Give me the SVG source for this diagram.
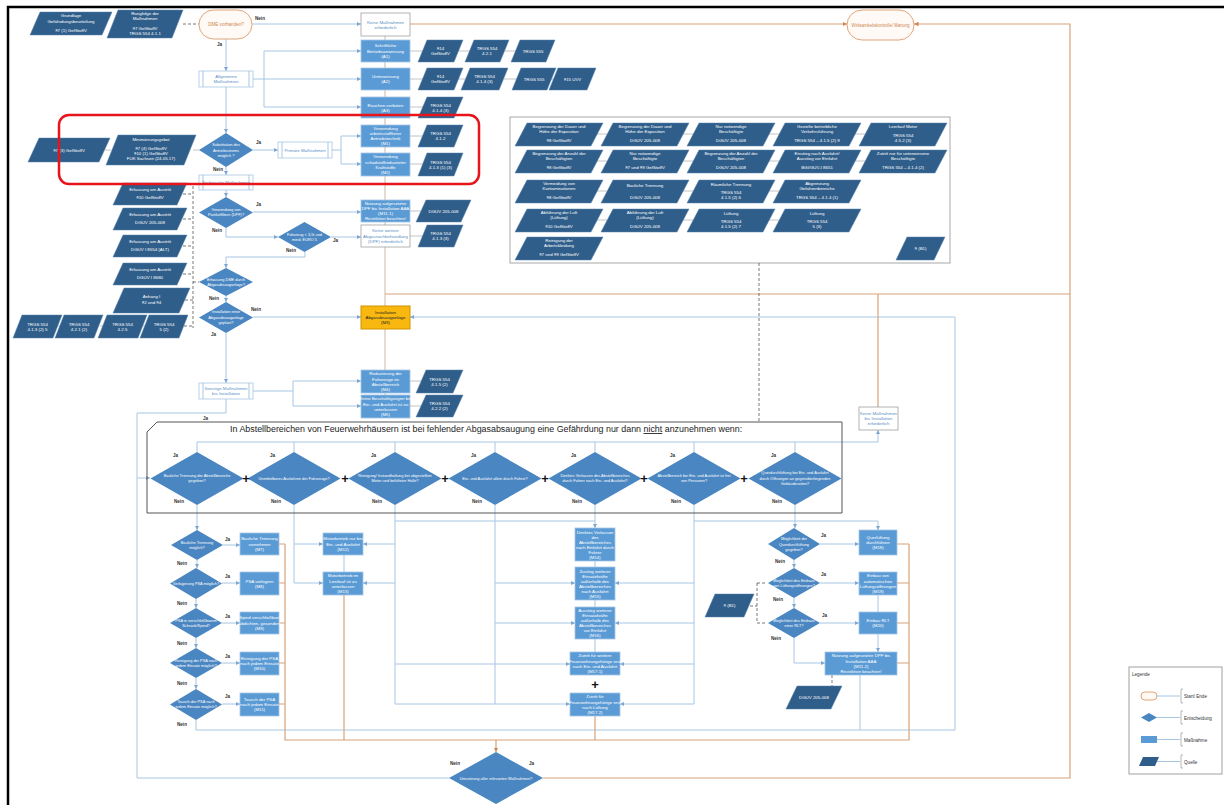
<svg xmlns="http://www.w3.org/2000/svg" width="1224" height="805" viewBox="0 0 1224 805">
<style>
.q{fill:#2f5e8b;stroke:#5a84ad;stroke-width:.5}
.m{fill:#5b9bd5;stroke:#a3c5e8;stroke-width:.8}
.d{fill:#4a86c1}
.w{fill:#fff;stroke:#a0a0a0;stroke-width:.8}
.sp{fill:#fff;stroke:#a9c7e4;stroke-width:.8}
.t{font-family:"Liberation Sans",Arial,sans-serif;font-size:4.4px;fill:#fff;text-anchor:middle}
.ts{font-family:"Liberation Sans",Arial,sans-serif;font-size:3.9px;fill:#fff;text-anchor:middle}
.tb{font-family:"Liberation Sans",Arial,sans-serif;font-size:4.4px;fill:#5a8fc6;text-anchor:middle}
.tk{font-family:"Liberation Sans",Arial,sans-serif;font-size:4.4px;fill:#222;text-anchor:middle}
.to{font-family:"Liberation Sans",Arial,sans-serif;font-size:4.6px;fill:#cf8650;text-anchor:middle}
.lbl{font-family:"Liberation Sans",Arial,sans-serif;font-size:4.6px;font-weight:bold;fill:#333}
.lg{font-family:"Liberation Sans",Arial,sans-serif;font-size:4.6px;fill:#333}
.hd{font-family:"Liberation Sans",Arial,sans-serif;font-size:8.9px;fill:#222}
.plus{font-family:"Liberation Sans",Arial,sans-serif;font-size:13px;font-weight:bold;fill:#111;text-anchor:middle}
.c{fill:none;stroke:#a8c6e3;stroke-width:1}
.tan{fill:none;stroke:#cdb8a4;stroke-width:1}
.o{fill:none;stroke:#d8a47b;stroke-width:1.2}
.dsh{fill:none;stroke:#555;stroke-width:.8;stroke-dasharray:3 2}
.gl{fill:none;stroke:#b5b5b5;stroke-width:.8}
.oval{fill:#fffaf5;stroke:#e0a57a;stroke-width:1}
</style>
<defs>
<marker id="ab" viewBox="0 0 6 6" refX="6" refY="3" markerWidth="4" markerHeight="4" orient="auto" markerUnits="userSpaceOnUse"><path d="M0,0 L6,3 L0,6 Z" fill="#7ea7d1"/></marker>
<marker id="ao" viewBox="0 0 6 6" refX="6" refY="3" markerWidth="4.5" markerHeight="4.5" orient="auto" markerUnits="userSpaceOnUse"><path d="M0,0 L6,3 L0,6 Z" fill="#cf8650"/></marker>
</defs>
<rect width="1224" height="805" fill="#fff"/>
<path d="M8,805 V7 H1224" fill="none" stroke="#000" stroke-width="2.5"/>

<g id="panel"><rect x="510" y="117" width="440" height="146" fill="#fff" stroke="#a8a8a8" stroke-width="1"/></g>

<g id="connectors">
<path class="c" d="M252,24 H361" marker-end="url(#ab)"/>
<path class="c" d="M226,39 V71" marker-end="url(#ab)"/>
<path class="c" d="M253,79 H264 M264,51 V107"/>
<path class="c" d="M264,51 H361" marker-end="url(#ab)"/>
<path class="c" d="M264,79 H361" marker-end="url(#ab)"/>
<path class="c" d="M264,107 H361" marker-end="url(#ab)"/>
<path class="c" d="M226,87 V133" marker-end="url(#ab)"/>
<path class="c" d="M253,150 H278" marker-end="url(#ab)"/>
<path class="c" d="M332,150 H341 V136 H361" marker-end="url(#ab)"/>
<path class="c" d="M341,150 V164 H361" marker-end="url(#ab)"/>
<path class="c" d="M226,167 V175" marker-end="url(#ab)"/>
<path class="c" d="M226,190 V197" marker-end="url(#ab)"/>
<path class="c" d="M253,212 H361" marker-end="url(#ab)"/>
<path class="c" d="M226,228 V237 H278" marker-end="url(#ab)"/>
<path class="c" d="M331,237 H361" marker-end="url(#ab)"/>
<path class="c" d="M305,252 V257 H226 V268" marker-end="url(#ab)"/>
<path class="c" d="M226,296 V302" marker-end="url(#ab)"/>
<path class="c" d="M253,317 H361" marker-end="url(#ab)"/>
<path class="c" d="M226,333 V383" marker-end="url(#ab)"/>
<path class="c" d="M253,391 H293 V381 H361" marker-end="url(#ab)"/>
<path class="c" d="M293,391 V406 H361" marker-end="url(#ab)"/>
<path class="c" d="M226,399 V413 H137 V478 H150" marker-end="url(#ab)"/>
<path class="c" d="M449,778 H137 V478"/>
<path class="c" d="M197,452 V442 H878 V430" marker-end="url(#ab)"/>
<path class="c" d="M294,452 V442 M395,452 V442 M495,452 V442 M595,452 V442 M694,452 V442 M795,452 V442"/>
<path class="c" d="M196,720 V730 H955 V317 H410" marker-end="url(#ab)"/>
<path class="c" d="M197,505 V530" marker-end="url(#ab)"/>
<path class="c" d="M223,545 H240" marker-end="url(#ab)"/>
<path class="c" d="M197,560 V568" marker-end="url(#ab)"/>
<path class="c" d="M222,583 H240" marker-end="url(#ab)"/>
<path class="c" d="M196,599 V608" marker-end="url(#ab)"/>
<path class="c" d="M222,623 H240" marker-end="url(#ab)"/>
<path class="c" d="M196,638 V648" marker-end="url(#ab)"/>
<path class="c" d="M222,663 H240" marker-end="url(#ab)"/>
<path class="c" d="M196,678 V689" marker-end="url(#ab)"/>
<path class="c" d="M222,704 H240" marker-end="url(#ab)"/>
<path class="c" d="M294,505 V583 H323" marker-end="url(#ab)"/>
<path class="c" d="M294,544 H323" marker-end="url(#ab)"/>
<path class="c" d="M395,505 V704 H570" marker-end="url(#ab)"/>
<path class="c" d="M395,544 H363" marker-end="url(#ab)"/>
<path class="c" d="M395,583 H363" marker-end="url(#ab)"/>
<path class="c" d="M395,521 H595"/>
<path class="c" d="M395,664 H570" marker-end="url(#ab)"/>
<path class="c" d="M495,505 V704"/>
<path class="c" d="M495,583 H575" marker-end="url(#ab)"/>
<path class="c" d="M495,623 H575" marker-end="url(#ab)"/>
<path class="c" d="M595,505 V528" marker-end="url(#ab)"/>
<path class="c" d="M694,505 V704 H620" marker-end="url(#ab)"/>
<path class="c" d="M694,583 H615" marker-end="url(#ab)"/>
<path class="c" d="M694,623 H615" marker-end="url(#ab)"/>
<path class="c" d="M694,664 H620" marker-end="url(#ab)"/>
<path class="c" d="M694,521 H878 V530" marker-end="url(#ab)"/>
<path class="c" d="M795,505 V528" marker-end="url(#ab)"/>
<path class="c" d="M820,544 H859" marker-end="url(#ab)"/>
<path class="c" d="M794,559 V568" marker-end="url(#ab)"/>
<path class="c" d="M820,583 H859" marker-end="url(#ab)"/>
<path class="c" d="M794,598 V608" marker-end="url(#ab)"/>
<path class="c" d="M820,623 H859" marker-end="url(#ab)"/>
<path class="c" d="M794,638 V663 H825" marker-end="url(#ab)"/>
<path class="c" d="M878,595 V652" marker-end="url(#ab)"/>
<path class="c" d="M860,675 V730"/>
<path class="c" d="M344,555 V572 M595,561 V567 M595,600 V607 M595,639 V652"/>
<path class="tan" d="M385,36 V40 M385,62 V68 M385,90 V97 M385,118 V125 M385,147 V153 M385,176 V200 M385,222 V225 M385,247 V306 M385,329 V370 M385,393 V395"/>
<path class="o" d="M410,24 H847" marker-end="url(#ao)"/>
<path class="o" d="M543,778 H1070 V24 H914" marker-end="url(#ao)"/>
<path class="o" d="M385,294 H1070"/>
<path class="o" d="M878,407 V294"/>
<path class="o" d="M279,544 H285 M279,583 H285 M279,623 H285 M279,663 H285 M279,704 H285"/>
<path class="o" d="M285,544 V740 H909 V544"/>
<path class="o" d="M897,544 H909 M897,583 H909 M897,623 H909 M897,663 H909"/>
<path class="o" d="M344,595 V740 M595,716 V740"/>
<path class="o" d="M496,740 V752" marker-end="url(#ao)"/>
<path class="dsh" d="M183,24 H199"/>
<path class="dsh" d="M183,194 H193 M183,219 H193 M183,246 H193 M183,274 H193 M185,300 H193 M184,326 H193 M193,186 V328 M193,282 H199"/>
<path class="dsh" d="M759,263 V422"/>
<path class="dsh" d="M750,606 H757 M757,583 V623 M757,583 H767 M757,623 H767"/>
<path class="dsh" d="M832,675 V686"/>
<path class="gl" d="M105,150 H111 M193,150 H199 M58,326 H60 M100,326 H103 M143,326 H145"/>
<path class="gl" d="M410,51 H423 M458,51 H470 M505,51 H516 M410,79 H423 M458,79 H466 M504,79 H517 M551,79 H554 M410,107 H423 M410,136 H423 M410,164 H423 M410,211 H421 M410,236 H423 M410,381 H421 M410,406 H421"/>
<path class="gl" d="M597,134 H607 M683,134 H693 M769,134 H779 M855,134 H865 M597,161 H607 M683,161 H693 M769,161 H779 M855,161 H865 M597,191 H607 M683,191 H693 M769,191 H779 M597,220 H607 M683,220 H693 M769,220 H779"/>
</g>

<g id="n_grund"><path class="q" d="M40,12 H112 L102,35 H30 Z"/><text class="t"><tspan x="71" y="17">Grundlage</tspan><tspan x="71" y="22.5">Gefährdungsbeurteilung</tspan><tspan x="71" y="32">§7 (1) GefStoffV</tspan></text></g>
<g id="n_rang"><path class="q" d="M118,10 H183 L172,38 H107 Z"/><text class="t"><tspan x="145" y="14.5">Rangfolge der</tspan><tspan x="145" y="19.7">Maßnahmen</tspan><tspan x="145" y="29.5">§7 GefStoffV</tspan><tspan x="145" y="34.7">TRGS 554 4.1.1</tspan></text></g>
<g id="n_start"><rect class="oval" x="199" y="10" width="53" height="29" rx="14.5"/><text class="to" x="226" y="26.2">DME vorhanden?</text></g>
<g id="n_keine"><rect class="w" x="361" y="13" width="49" height="23"/><text class="tb"><tspan x="385.5" y="23.5">Keine Maßnahmen</tspan><tspan x="385.5" y="28.7">erforderlich</tspan></text></g>
<g id="n_wirk"><rect class="oval" x="847" y="10" width="67" height="30" rx="15"/><text class="to" x="880.5" y="26.5" textLength="58" lengthAdjust="spacingAndGlyphs">Wirksamkeitskontrolle/ Wartung</text></g>
<g id="n_allg"><rect class="sp" x="199" y="71" width="54" height="16"/><path class="c" d="M203,71 V87 M249,71 V87"/><text class="tb"><tspan x="226" y="78">Allgemeine</tspan><tspan x="226" y="83.2">Maßnahmen</tspan></text></g>

<g id="n_a1"><rect class="m" x="361" y="40" width="49" height="22"/><text class="t"><tspan x="385.5" y="47.4">Schriftliche</tspan><tspan x="385.5" y="52.6">Betriebsanweisung</tspan><tspan x="385.5" y="57.8">(A1)</tspan></text></g>
<g id="q_a1a"><path class="q" d="M427,40 H463 L454,62 H418 Z"/><text class="t"><tspan x="440.5" y="50">§14</tspan><tspan x="440.5" y="55.2">GefStoffV</tspan></text></g>
<g id="q_a1b"><path class="q" d="M474,40 H509 L500,62 H465 Z"/><text class="t"><tspan x="487" y="50">TRGS 554</tspan><tspan x="487" y="55.2">4.2.1</tspan></text></g>
<g id="q_a1c"><path class="q" d="M520,40 H555 L546,62 H511 Z"/><text class="t" x="533" y="52.6">TRGS 555</text></g>
<g id="n_a2"><rect class="m" x="361" y="68" width="49" height="22"/><text class="t"><tspan x="385.5" y="78">Unterweisung</tspan><tspan x="385.5" y="83.2">(A2)</tspan></text></g>
<g id="q_a2a"><path class="q" d="M427,68 H463 L454,90 H418 Z"/><text class="t"><tspan x="440.5" y="78">§14</tspan><tspan x="440.5" y="83.2">GefStoffV</tspan></text></g>
<g id="q_a2b"><path class="q" d="M470,68 H508 L499,90 H461 Z"/><text class="t"><tspan x="484.5" y="78">TRGS 554</tspan><tspan x="484.5" y="83.2">4.1.4 (3)</tspan></text></g>
<g id="q_a2c"><path class="q" d="M521,68 H556 L547,90 H512 Z"/><text class="t" x="534" y="80.6">TRGS 555</text></g>
<g id="q_a2d"><path class="q" d="M558,68 H596 L587,90 H549 Z"/><text class="t" x="572.5" y="80.6">§15 UVV</text></g>
<g id="n_a3"><rect class="m" x="361" y="97" width="49" height="21"/><text class="t"><tspan x="385.5" y="106.5">Rauchen verboten</tspan><tspan x="385.5" y="111.7">(A3)</tspan></text></g>
<g id="q_a3"><path class="q" d="M427,97 H463 L454,118 H418 Z"/><text class="t"><tspan x="440.5" y="106.5">TRGS 554</tspan><tspan x="440.5" y="111.7">4.1.4 (3)</tspan></text></g>

<g id="q_73"><path class="q" d="M39,138 H110 L99,162 H28 Z"/><text class="t" x="69" y="151.6">§7 (3) GefStoffV</text></g>
<g id="q_minim"><path class="q" d="M118,135 H196 L184,165 H106 Z"/><text class="t"><tspan x="151" y="141">Minimierungsgebot</tspan><tspan x="151" y="150">§7 (4) GefStoffV</tspan><tspan x="151" y="155.2">§10 (1) GefStoffV</tspan><tspan x="151" y="160.4">FUK Sachsen (24.05.17)</tspan></text></g>
<g id="d_subst"><path class="d" d="M226,133 L253,150 L226,167 L199,150 Z"/><text class="ts"><tspan x="226" y="146.4">Substitution des</tspan><tspan x="226" y="151.6">Antriebsstroms</tspan><tspan x="226" y="156.8">möglich ?</tspan></text></g>
<g id="n_prim"><rect class="sp" x="278" y="142" width="54" height="16"/><path class="c" d="M282,142 V158 M328,142 V158"/><text class="tb" x="305" y="151.6">Primäre Maßnahmen</text></g>
<g id="n_m1"><rect class="m" x="361" y="125" width="49" height="22"/><text class="t"><tspan x="385.5" y="129.8">Verwendung</tspan><tspan x="385.5" y="135">arbeitsstofffreier</tspan><tspan x="385.5" y="140.2">Antriebstechnik</tspan><tspan x="385.5" y="145.4">(M1)</tspan></text></g>
<g id="q_m1"><path class="q" d="M427,125 H463 L454,147 H418 Z"/><text class="t"><tspan x="440.5" y="135">TRGS 554</tspan><tspan x="440.5" y="140.2">4.1.2</tspan></text></g>
<g id="n_m2"><rect class="m" x="361" y="153" width="49" height="23"/><text class="t"><tspan x="385.5" y="158.3">Verwendung</tspan><tspan x="385.5" y="163.5">schadstoffreduzierter</tspan><tspan x="385.5" y="168.7">Kraftstoffe</tspan><tspan x="385.5" y="173.9">(M2)</tspan></text></g>
<g id="q_m2"><path class="q" d="M427,153 H463 L454,176 H418 Z"/><text class="t"><tspan x="440.5" y="163.5">TRGS 554</tspan><tspan x="440.5" y="168.7">4.1.3 (1) (3)</tspan></text></g>

<g id="n_tech"><rect class="sp" x="199" y="175" width="54" height="15"/><path class="c" d="M203,175 V190 M249,175 V190"/><text class="tb" x="226" y="184.1">Technische Maßnahmen</text></g>
<g id="d_dpf"><path class="d" d="M226,197 L253,212.5 L226,228 L199,212.5 Z"/><text class="ts"><tspan x="226" y="211">Verwendung von</tspan><tspan x="226" y="216.2">Partikelfiltern (DPF)?</tspan></text></g>
<g id="n_m111"><rect class="m" x="361" y="200" width="49" height="22"/><text class="t"><tspan x="385.5" y="204.8">Nutzung aufgesetzter</tspan><tspan x="385.5" y="210">DPF bis Installation AAA</tspan><tspan x="385.5" y="215.2">(M11.1)</tspan><tspan x="385.5" y="220.4">Restriktion beachten!</tspan></text></g>
<g id="q_m111"><path class="q" d="M426,200 H471 L461,222 H416 Z"/><text class="t" x="443.5" y="212.6">DGUV 205-008</text></g>
<g id="d_fzg"><path class="d" d="M304.5,222 L331,237 L304.5,252 L278,237 Z"/><text class="ts"><tspan x="304.5" y="236">Fahrzeug &lt; 3,5t und</tspan><tspan x="304.5" y="241.2">mind. EURO 5</tspan></text></g>
<g id="n_keinedpf"><rect class="w" x="361" y="225" width="49" height="22"/><text class="tb"><tspan x="385.5" y="232.4">Keine weitere</tspan><tspan x="385.5" y="237.6">Abgasnachbehandlung</tspan><tspan x="385.5" y="242.8">(DPF) erforderlich</tspan></text></g>
<g id="q_keinedpf"><path class="q" d="M427,225 H463 L454,247 H418 Z"/><text class="t"><tspan x="440.5" y="235">TRGS 554</tspan><tspan x="440.5" y="240.2">4.1.3 (3)</tspan></text></g>

<g id="q_e1"><path class="q" d="M123,183 H187 L177,205 H113 Z"/><text class="t"><tspan x="150" y="191">Erfassung am Austritt</tspan><tspan x="150" y="199">§10 GefStoffV</tspan></text></g>
<g id="q_e2"><path class="q" d="M123,208 H187 L177,230 H113 Z"/><text class="t"><tspan x="150" y="216">Erfassung am Austritt</tspan><tspan x="150" y="224">DGUV 205-008</tspan></text></g>
<g id="q_e3"><path class="q" d="M123,235 H187 L177,257 H113 Z"/><text class="t"><tspan x="150" y="243">Erfassung am Austritt</tspan><tspan x="150" y="251">DGUV I 8554 (ALT)</tspan></text></g>
<g id="q_e4"><path class="q" d="M123,263 H187 L177,285 H113 Z"/><text class="t"><tspan x="150" y="271">Erfassung am Austritt</tspan><tspan x="150" y="279">DGUV I 8680</tspan></text></g>
<g id="q_e5"><path class="q" d="M124,288 H190 L179,313 H113 Z"/><text class="t"><tspan x="151.5" y="298">Anhang I</tspan><tspan x="151.5" y="304">§2 und §4</tspan></text></g>
<g id="q_t1"><path class="q" d="M22,315 H62 L53,338 H13 Z"/><text class="t"><tspan x="37.5" y="325.5">TRGS 554</tspan><tspan x="37.5" y="330.7">4.1.3 (2) 5</tspan></text></g>
<g id="q_t2"><path class="q" d="M64,315 H103 L94,338 H55 Z"/><text class="t"><tspan x="79" y="325.5">TRGS 554</tspan><tspan x="79" y="330.7">4.2.1 (2)</tspan></text></g>
<g id="q_t3"><path class="q" d="M107,315 H147 L138,338 H98 Z"/><text class="t"><tspan x="122.5" y="325.5">TRGS 554</tspan><tspan x="122.5" y="330.7">4.2.5</tspan></text></g>
<g id="q_t4"><path class="q" d="M149,315 H188 L179,338 H140 Z"/><text class="t"><tspan x="164" y="325.5">TRGS 554</tspan><tspan x="164" y="330.7">5 (2)</tspan></text></g>

<g id="d_erf"><path class="d" d="M226,268 L253,282 L226,296 L199,282 Z"/><text class="ts"><tspan x="226" y="281">Erfassung DME durch</tspan><tspan x="226" y="286.2">Abgasabsauganlage?</tspan></text></g>
<g id="d_inst"><path class="d" d="M226,302 L253,317.5 L226,333 L199,317.5 Z"/><text class="ts"><tspan x="226" y="313.4">Installation einer</tspan><tspan x="226" y="318.6">Abgasabsauganlage</tspan><tspan x="226" y="323.8">geplant?</tspan></text></g>
<g id="n_m3"><rect x="361" y="306" width="49" height="23" fill="#f8b80f" stroke="#d09400" stroke-width="1"/><text class="tk"><tspan x="385.5" y="313.9">Installation</tspan><tspan x="385.5" y="319.1">Abgasabsauganlage</tspan><tspan x="385.5" y="324.3">(M3)</tspan></text></g>
<g id="n_sonst"><rect class="sp" x="199" y="383" width="54" height="16"/><path class="c" d="M203,383 V399 M249,383 V399"/><text class="tb"><tspan x="226" y="390">Sonstige Maßnahmen</tspan><tspan x="226" y="395.2">bis Installation</tspan></text></g>
<g id="n_m4"><rect class="m" x="361" y="370" width="49" height="23"/><text class="t"><tspan x="385.5" y="375.3">Reduzierung der</tspan><tspan x="385.5" y="380.5">Fahrzeuge im</tspan><tspan x="385.5" y="385.7">Abstellbereich</tspan><tspan x="385.5" y="390.9">(M4)</tspan></text></g>
<g id="q_m4"><path class="q" d="M426,370 H463 L453,393 H416 Z"/><text class="t"><tspan x="439.5" y="380.5">TRGS 554</tspan><tspan x="439.5" y="385.7">4.1.5 (2)</tspan></text></g>
<g id="n_m5"><rect class="m" x="361" y="395" width="49" height="23"/><text class="t"><tspan x="385.5" y="400.3">Keine Beschäftigungen bei</tspan><tspan x="385.5" y="405.5">Ein- und Ausfahrt ist zu</tspan><tspan x="385.5" y="410.7">unterlassen</tspan><tspan x="385.5" y="415.9">(M5)</tspan></text></g>
<g id="q_m5"><path class="q" d="M426,395 H463 L453,417 H416 Z"/><text class="t"><tspan x="439.5" y="405">TRGS 554</tspan><tspan x="439.5" y="410.2">4.2.2 (2)</tspan></text></g>

<g id="panel_items">
<g id="p11"><path class="q" d="M527,123 H603 L591,146 H515 Z"/><text class="t"><tspan x="559" y="128">Begrenzung der Dauer und</tspan><tspan x="559" y="133">Höhe der Exposition</tspan><tspan x="559" y="142">§8 GefStoffV</tspan></text></g>
<g id="p12"><path class="q" d="M613,123 H689 L677,146 H601 Z"/><text class="t"><tspan x="645" y="128">Begrenzung der Dauer und</tspan><tspan x="645" y="133">Höhe der Exposition</tspan><tspan x="645" y="142">DGUV 205-008</tspan></text></g>
<g id="p13"><path class="q" d="M699,123 H775 L763,146 H687 Z"/><text class="t"><tspan x="731" y="128">Nur notwendige</tspan><tspan x="731" y="133">Beschäftigte</tspan><tspan x="731" y="142">DGUV 205-008</tspan></text></g>
<g id="p14"><path class="q" d="M785,123 H861 L849,146 H773 Z"/><text class="t"><tspan x="817" y="128">Gezielte betriebliche</tspan><tspan x="817" y="133">Verkehrsführung</tspan><tspan x="817" y="142">TRGS 554 – 4.1.5 (2) 9</tspan></text></g>
<g id="p15"><path class="q" d="M871,123 H947 L935,146 H859 Z"/><text class="t"><tspan x="903" y="128">Leerlauf Motor</tspan><tspan x="903" y="137">TRGS 554</tspan><tspan x="903" y="142">4.5.2 (3)</tspan></text></g>
<g id="p21"><path class="q" d="M527,150 H603 L591,173 H515 Z"/><text class="t"><tspan x="559" y="155">Begrenzung der Anzahl der</tspan><tspan x="559" y="160">Beschäftigten</tspan><tspan x="559" y="169">§8 GefStoffV</tspan></text></g>
<g id="p22"><path class="q" d="M613,150 H689 L677,173 H601 Z"/><text class="t"><tspan x="645" y="155">Nur notwendige</tspan><tspan x="645" y="160">Beschäftigte</tspan><tspan x="645" y="169">§7 und §9 GefStoffV</tspan></text></g>
<g id="p23"><path class="q" d="M699,150 H775 L763,173 H687 Z"/><text class="t"><tspan x="731" y="155">Begrenzung der Anzahl der</tspan><tspan x="731" y="160">Beschäftigten</tspan><tspan x="731" y="169">DGUV 205-008</tspan></text></g>
<g id="p24"><path class="q" d="M785,150 H861 L849,173 H773 Z"/><text class="t"><tspan x="817" y="155">Einstieg nach Ausfahrt/</tspan><tspan x="817" y="160">Ausstieg vor Einfahrt</tspan><tspan x="817" y="169">BGI/GUV-I 8651</tspan></text></g>
<g id="p25"><path class="q" d="M871,150 H947 L935,173 H859 Z"/><text class="t"><tspan x="903" y="155">Zutritt nur für unterwiesene</tspan><tspan x="903" y="160">Beschäftigte</tspan><tspan x="903" y="169">TRGS 554 – 4.1.4 (2)</tspan></text></g>
<g id="p31"><path class="q" d="M527,180 H603 L591,203 H515 Z"/><text class="t"><tspan x="559" y="185">Vermeidung von</tspan><tspan x="559" y="190">Kontaminationen</tspan><tspan x="559" y="199">§8 GefStoffV</tspan></text></g>
<g id="p32"><path class="q" d="M613,180 H689 L677,203 H601 Z"/><text class="t"><tspan x="645" y="187">Bauliche Trennung</tspan><tspan x="645" y="199">DGUV 205-008</tspan></text></g>
<g id="p33"><path class="q" d="M699,180 H775 L763,203 H687 Z"/><text class="t"><tspan x="731" y="186">Räumliche Trennung</tspan><tspan x="731" y="194">TRGS 554</tspan><tspan x="731" y="199">4.1.5 (2) 6</tspan></text></g>
<g id="p34"><path class="q" d="M785,180 H861 L849,203 H773 Z"/><text class="t"><tspan x="817" y="185">Abgrenzung</tspan><tspan x="817" y="190">Gefahrenbereiche</tspan><tspan x="817" y="199">TRGS 554 – 4.1.4 (1)</tspan></text></g>
<g id="p41"><path class="q" d="M527,209 H603 L591,232 H515 Z"/><text class="t"><tspan x="559" y="214">Abführung der Luft</tspan><tspan x="559" y="219">(Lüftung)</tspan><tspan x="559" y="228">§10 GefStoffV</tspan></text></g>
<g id="p42"><path class="q" d="M613,209 H689 L677,232 H601 Z"/><text class="t"><tspan x="645" y="214">Abführung der Luft</tspan><tspan x="645" y="219">(Lüftung)</tspan><tspan x="645" y="228">DGUV 205-008</tspan></text></g>
<g id="p43"><path class="q" d="M699,209 H775 L763,232 H687 Z"/><text class="t"><tspan x="731" y="215">Lüftung</tspan><tspan x="731" y="223">TRGS 554</tspan><tspan x="731" y="228">4.1.5 (2) 7</tspan></text></g>
<g id="p44"><path class="q" d="M785,209 H861 L849,232 H773 Z"/><text class="t"><tspan x="817" y="215">Lüftung</tspan><tspan x="817" y="223">TRGS 554</tspan><tspan x="817" y="228">5 (3)</tspan></text></g>
<g id="p51"><path class="q" d="M527,237 H603 L591,260 H515 Z"/><text class="t"><tspan x="559" y="242">Reinigung der</tspan><tspan x="559" y="247">Arbeitskleidung</tspan><tspan x="559" y="256">§7 und §9 GefStoffV</tspan></text></g>
<g id="p55"><path class="q" d="M907,237 H945 L934,260 H896 Z"/><text class="t" x="920.5" y="250">§ (B1)</text></g>
</g>

<g id="n_keineinst"><rect class="w" x="859" y="407" width="39" height="23"/><text class="tb"><tspan x="878.5" y="414.9">Keine Maßnahmen</tspan><tspan x="878.5" y="420.1">bis Installation</tspan><tspan x="878.5" y="425.3">erforderlich</tspan></text></g>

<g id="bigbox">
<path d="M157,422 H842 V513 H147 V432 Z" fill="none" stroke="#555" stroke-width="1"/>
<text class="hd" x="230" y="432">In Abstellbereichen von Feuerwehrhäusern ist bei fehlender Abgasabsaugung eine Gefährdung nur dann <tspan text-decoration="underline">nicht</tspan> anzunehmen wenn:</text>
</g>

<g id="d_r1"><path class="d" d="M197,452 L243.5,478.5 L197,505 L150.5,478.5 Z"/><text class="ts"><tspan x="197" y="477">Bauliche Trennung der Abstellbereiche</tspan><tspan x="197" y="482.2">gegeben?</tspan></text></g>
<g id="d_r2"><path class="d" d="M294,452 L340.5,478.5 L294,505 L247.5,478.5 Z"/><text class="ts" x="294" y="479.6">Unmittelbares Ausfahren der Fahrzeuge?</text></g>
<g id="d_r3"><path class="d" d="M395,452 L441.5,478.5 L395,505 L348.5,478.5 Z"/><text class="ts"><tspan x="395" y="477">Reinigung/ Instandhaltung bei abgestellten</tspan><tspan x="395" y="482.2">Motor und belüfteter Halle?</tspan></text></g>
<g id="d_r4"><path class="d" d="M495,452 L541.5,478.5 L495,505 L448.5,478.5 Z"/><text class="ts" x="495" y="479.6">Ein- und Ausfahrt allein durch Fahrer?</text></g>
<g id="d_r5"><path class="d" d="M595,452 L641.5,478.5 L595,505 L548.5,478.5 Z"/><text class="ts"><tspan x="595" y="477">Direktes Verlassen des Abstellbereiches</tspan><tspan x="595" y="482.2">durch Fahrer nach Ein- und Ausfahrt?</tspan></text></g>
<g id="d_r6"><path class="d" d="M694,452 L740.5,478.5 L694,505 L647.5,478.5 Z"/><text class="ts"><tspan x="694" y="477">Abstellbereich bei Ein- und Ausfahrt ist frei</tspan><tspan x="694" y="482.2">von Personen?</tspan></text></g>
<g id="d_r7"><path class="d" d="M795,452 L841.5,478.5 L795,505 L748.5,478.5 Z"/><text class="ts"><tspan x="795" y="474.4">Querdurchlüftung bei Ein- und Ausfahrt</tspan><tspan x="795" y="479.6">durch Öffnungen an gegenüberliegenden</tspan><tspan x="795" y="484.8">Gebäudeseiten?</tspan></text></g>
<g id="plus">
<text class="plus" x="246" y="483">+</text><text class="plus" x="345" y="483">+</text><text class="plus" x="445" y="483">+</text><text class="plus" x="545" y="483">+</text><text class="plus" x="644" y="483">+</text><text class="plus" x="744" y="483">+</text><text class="plus" x="595" y="689">+</text>
</g>

<g id="d_l1"><path class="d" d="M197,530 L223,545 L197,560 L171,545 Z"/><text class="ts"><tspan x="197" y="544">Bauliche Trennung</tspan><tspan x="197" y="549.2">möglich?</tspan></text></g>
<g id="n_m7"><rect class="m" x="240" y="533" width="39" height="22"/><text class="t"><tspan x="259.5" y="540.4">Bauliche Trennung</tspan><tspan x="259.5" y="545.6">vornehmen</tspan><tspan x="259.5" y="550.8">(M7)</tspan></text></g>
<g id="d_l2"><path class="d" d="M196,568 L222,583.5 L196,599 L170,583.5 Z"/><text class="ts" x="196" y="585">Verlagerung PSA möglich?</text></g>
<g id="n_m8"><rect class="m" x="240" y="572" width="39" height="23"/><text class="t"><tspan x="259.5" y="582.5">PSA verlagern</tspan><tspan x="259.5" y="587.7">(M8)</tspan></text></g>
<g id="d_l3"><path class="d" d="M196,608 L222,623 L196,638 L170,623 Z"/><text class="ts"><tspan x="196" y="622">PSA in verschließbarem</tspan><tspan x="196" y="627.2">Schrank/Spind?</tspan></text></g>
<g id="n_m9"><rect class="m" x="240" y="612" width="39" height="22"/><text class="t"><tspan x="259.5" y="619.4">Spind verschließbar/</tspan><tspan x="259.5" y="624.6">abdichten, gesondert</tspan><tspan x="259.5" y="629.8">(M9)</tspan></text></g>
<g id="d_l4"><path class="d" d="M196,648 L222,663 L196,678 L170,663 Z"/><text class="ts"><tspan x="196" y="662">Reinigung der PSA nach</tspan><tspan x="196" y="667.2">jedem Einsatz möglich?</tspan></text></g>
<g id="n_m10"><rect class="m" x="240" y="652" width="39" height="23"/><text class="t"><tspan x="259.5" y="659.9">Reinigung der PSA</tspan><tspan x="259.5" y="665.1">nach jedem Einsatz</tspan><tspan x="259.5" y="670.3">(M10)</tspan></text></g>
<g id="d_l5"><path class="d" d="M196,689 L222,704.5 L196,720 L170,704.5 Z"/><text class="ts"><tspan x="196" y="703">Tausch der PSA nach</tspan><tspan x="196" y="708.2">jedem Einsatz möglich?</tspan></text></g>
<g id="n_m11"><rect class="m" x="240" y="693" width="39" height="23"/><text class="t"><tspan x="259.5" y="700.9">Tausch der PSA</tspan><tspan x="259.5" y="706.1">nach jedem Einsatz</tspan><tspan x="259.5" y="711.3">(M11)</tspan></text></g>

<g id="n_m12"><rect class="m" x="323" y="533" width="40" height="22"/><text class="t"><tspan x="343" y="540.4">Motorbetrieb nur bei</tspan><tspan x="343" y="545.6">Ein- und Ausfahrt</tspan><tspan x="343" y="550.8">(M12)</tspan></text></g>
<g id="n_m13"><rect class="m" x="323" y="572" width="40" height="23"/><text class="t"><tspan x="343" y="577.3">Motorbetrieb im</tspan><tspan x="343" y="582.5">Leerlauf ist zu</tspan><tspan x="343" y="587.7">unterlassen</tspan><tspan x="343" y="592.9">(M13)</tspan></text></g>

<g id="n_m14"><rect class="m" x="575" y="528" width="40" height="33"/><text class="t"><tspan x="595" y="533.5">Direktes Verlassen</tspan><tspan x="595" y="538.5">des</tspan><tspan x="595" y="543.5">Abstellbereiches</tspan><tspan x="595" y="548.5">nach Einfahrt durch</tspan><tspan x="595" y="553.5">Fahrer</tspan><tspan x="595" y="558.5">(M14)</tspan></text></g>
<g id="n_m15"><rect class="m" x="575" y="567" width="40" height="33"/><text class="t"><tspan x="595" y="572.5">Zustieg weiterer</tspan><tspan x="595" y="577.5">Einsatzkräfte</tspan><tspan x="595" y="582.5">außerhalb des</tspan><tspan x="595" y="587.5">Abstellbereiches</tspan><tspan x="595" y="592.5">nach Ausfahrt</tspan><tspan x="595" y="597.5">(M15)</tspan></text></g>
<g id="n_m16"><rect class="m" x="575" y="607" width="40" height="32"/><text class="t"><tspan x="595" y="612">Ausstieg weiterer</tspan><tspan x="595" y="617">Einsatzkräfte</tspan><tspan x="595" y="622">außerhalb des</tspan><tspan x="595" y="627">Abstellbereiches</tspan><tspan x="595" y="632">vor Einfahrt</tspan><tspan x="595" y="637">(M16)</tspan></text></g>
<g id="n_m171"><rect class="m" x="570" y="652" width="50" height="23"/><text class="t"><tspan x="595" y="657.3">Zutritt für weitere</tspan><tspan x="595" y="662.5">Feuerwehrangehörige erst</tspan><tspan x="595" y="667.7">nach Ein- und Ausfahrt</tspan><tspan x="595" y="672.9">(M17.1)</tspan></text></g>
<g id="n_m172"><rect class="m" x="570" y="693" width="50" height="23"/><text class="t"><tspan x="595" y="698.3">Zutritt für</tspan><tspan x="595" y="703.5">Feuerwehrangehörige erst</tspan><tspan x="595" y="708.7">nach Lüftung</tspan><tspan x="595" y="713.9">(M17.2)</tspan></text></g>

<g id="d_q1"><path class="d" d="M794,528 L820,544 L794,560 L768,544 Z"/><text class="ts"><tspan x="794" y="540.4">Möglichkeit der</tspan><tspan x="794" y="545.6">Querdurchlüftung</tspan><tspan x="794" y="550.8">gegeben?</tspan></text></g>
<g id="n_m18"><rect class="m" x="859" y="530" width="38" height="25"/><text class="t"><tspan x="878" y="538.9">Querlüftung</tspan><tspan x="878" y="544.1">durchführen</tspan><tspan x="878" y="549.3">(M18)</tspan></text></g>
<g id="d_q2"><path class="d" d="M794,568 L820,583 L794,598 L768,583 Z"/><text class="ts"><tspan x="794" y="582">Möglichkeit des Einbaus</tspan><tspan x="794" y="587.2">von Lüftungsöffnungen?</tspan></text></g>
<g id="n_m19"><rect class="m" x="859" y="572" width="38" height="23"/><text class="t"><tspan x="878" y="577.3">Einbau von</tspan><tspan x="878" y="582.5">automatischen</tspan><tspan x="878" y="587.7">Lüftungsöffnungen</tspan><tspan x="878" y="592.9">(M19)</tspan></text></g>
<g id="d_q3"><path class="d" d="M794,608 L820,623 L794,638 L768,623 Z"/><text class="ts"><tspan x="794" y="622">Möglichkeit des Einbaus</tspan><tspan x="794" y="627.2">einer RLT?</tspan></text></g>
<g id="n_m20"><rect class="m" x="859" y="612" width="38" height="22"/><text class="t"><tspan x="878" y="622">Einbau RLT</tspan><tspan x="878" y="627.2">(M20)</tspan></text></g>
<g id="n_m112"><rect class="m" x="825" y="652" width="72" height="23"/><text class="t"><tspan x="861" y="657.3">Nutzung aufgesetzter DPF bis</tspan><tspan x="861" y="662.5">Installation AAA</tspan><tspan x="861" y="667.7">(M11.2)</tspan><tspan x="861" y="672.9">Restriktion beachten!</tspan></text></g>
<g id="q_dguv2"><path class="q" d="M797,686 H842 L831,709 H786 Z"/><text class="t" x="814" y="699.1">DGUV 205-008</text></g>
<g id="q_b1"><path class="q" d="M715,594 H754 L744,617 H705 Z"/><text class="t" x="729.5" y="607.1">§ (B1)</text></g>

<g id="d_end"><path class="d" d="M496,752 L543,778 L496,804 L449,778 Z"/><text class="ts" x="496" y="779.6">Umsetzung aller relevanten Maßnahmen?</text></g>

<g id="labels">
<text class="lbl" x="255" y="20">Nein</text><text class="lbl" x="217" y="46">Ja</text>
<text class="lbl" x="256" y="144">Ja</text><text class="lbl" x="213" y="171">Nein</text>
<text class="lbl" x="256" y="206">Ja</text><text class="lbl" x="212" y="232">Nein</text>
<text class="lbl" x="333" y="242">Ja</text><text class="lbl" x="286" y="252">Nein</text>
<text class="lbl" x="209" y="300">Nein</text><text class="lbl" x="251" y="311">Nein</text>
<text class="lbl" x="211" y="336">Ja</text><text class="lbl" x="203" y="420">Ja</text>
<text class="lbl" x="173" y="457">Ja</text><text class="lbl" x="270" y="457">Ja</text><text class="lbl" x="371" y="457">Ja</text><text class="lbl" x="471" y="457">Ja</text><text class="lbl" x="571" y="457">Ja</text><text class="lbl" x="670" y="457">Ja</text><text class="lbl" x="771" y="457">Ja</text>
<text class="lbl" x="174" y="503">Nein</text><text class="lbl" x="271" y="503">Nein</text><text class="lbl" x="372" y="503">Nein</text><text class="lbl" x="472" y="503">Nein</text><text class="lbl" x="572" y="503">Nein</text><text class="lbl" x="671" y="503">Nein</text><text class="lbl" x="772" y="503">Nein</text>
<text class="lbl" x="225" y="541">Ja</text><text class="lbl" x="177" y="565">Nein</text>
<text class="lbl" x="225" y="578">Ja</text><text class="lbl" x="177" y="605">Nein</text>
<text class="lbl" x="225" y="618">Ja</text><text class="lbl" x="177" y="645">Nein</text>
<text class="lbl" x="225" y="658">Ja</text><text class="lbl" x="177" y="685">Nein</text>
<text class="lbl" x="225" y="698">Ja</text><text class="lbl" x="177" y="726">Nein</text>
<text class="lbl" x="821" y="537">Ja</text><text class="lbl" x="775" y="563">Nein</text>
<text class="lbl" x="821" y="576">Ja</text><text class="lbl" x="773" y="601">Nein</text>
<text class="lbl" x="822" y="617">Ja</text><text class="lbl" x="771" y="640">Nein</text>
<text class="lbl" x="450" y="765">Nein</text><text class="lbl" x="529" y="765">Ja</text>
</g>

<g id="legend">
<rect x="1129" y="667" width="93" height="107" fill="#fff" stroke="#a0a0a0" stroke-width="1"/>
<text class="lg" x="1132" y="676">Legende</text>
<rect class="oval" x="1141" y="692" width="16" height="8" rx="4"/>
<path d="M1149,713 L1157,717.5 L1149,722 L1141,717.5 Z" fill="#4a86c1"/>
<rect x="1141" y="736" width="16" height="7" fill="#5b9bd5"/>
<path d="M1143,757 H1159 L1155,766 H1139 Z" fill="#2f5e8b"/>
<path class="c" d="M1157,696 H1180 M1157,717.5 H1180 M1157,739.5 H1180 M1157,761.5 H1180"/>
<path fill="none" stroke="#9a9a9a" stroke-width=".7" d="M1183,689 H1181 V703 H1183 M1183,711 H1181 V724 H1183 M1183,733 H1181 V746 H1183 M1183,755 H1181 V768 H1183"/>
<text class="lg" x="1184" y="698">Start/ Ende</text>
<text class="lg" x="1184" y="719.5">Entscheidung</text>
<text class="lg" x="1184" y="741.5">Maßnahme</text>
<text class="lg" x="1184" y="763.5">Quelle</text>
</g>

<g id="highlight"><rect x="59" y="115" width="420" height="69" rx="10" fill="none" stroke="#e8141b" stroke-width="2.5"/></g>
</svg>
